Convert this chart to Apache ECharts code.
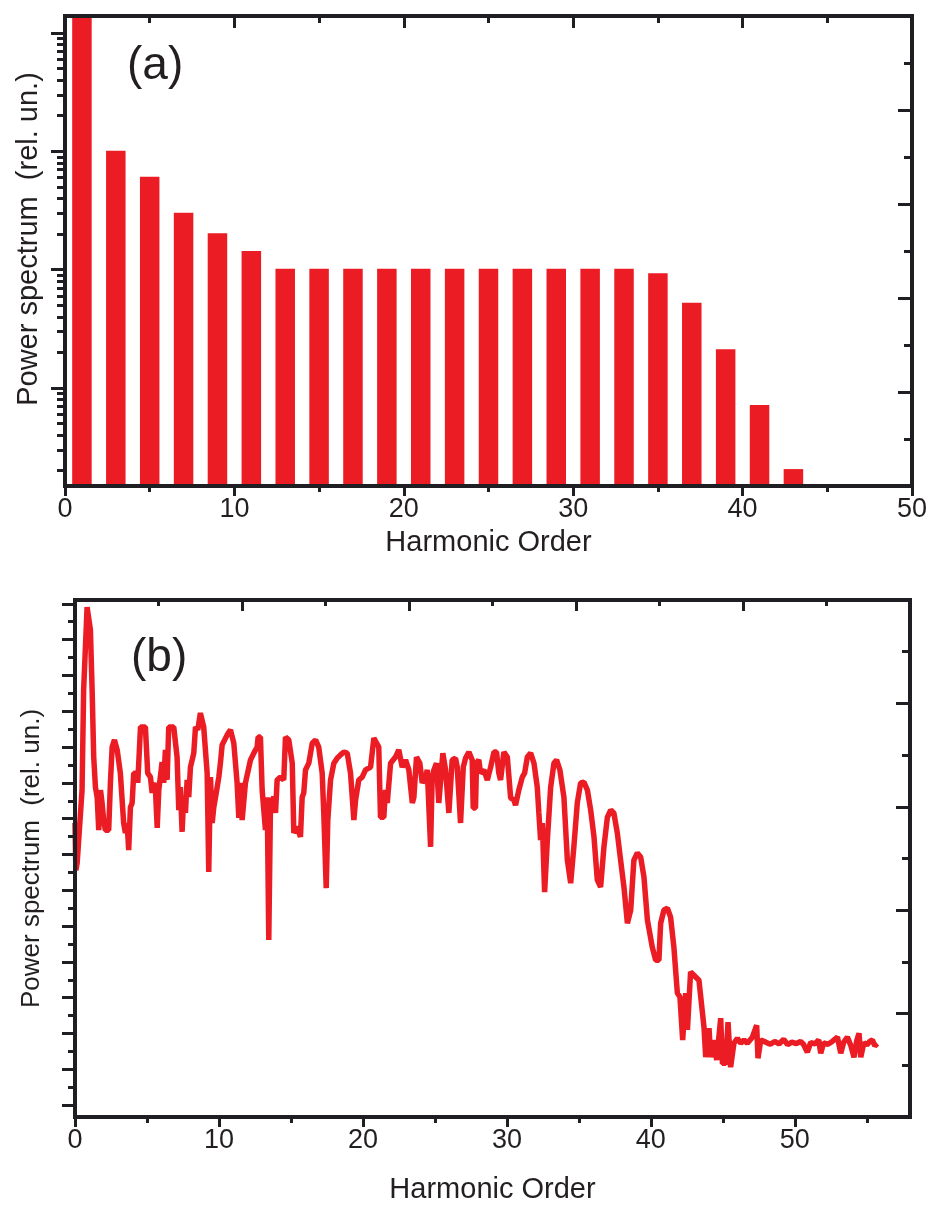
<!DOCTYPE html>
<html>
<head>
<meta charset="utf-8">
<script src="https://cdn.jsdelivr.net/npm/echarts@6/dist/echarts.min.js"></script>
<style>
html,body{margin:0;padding:0;background:#fff;}
#chart{width:931px;height:1205px;}
</style>
</head>
<body>
<div id="chart"></div>
<script>
// ---------- Panel (a): harmonic bars (log10 of relative power) ----------
const harmonicsA = [1,3,5,7,9,11,13,15,17,19,21,23,25,27,29,31,33,35,37,39,41,43];
const log10PowerA = [4.15,3.006,2.786,2.482,2.308,2.158,2.008,2.008,2.008,2.008,2.008,2.008,2.008,2.008,2.008,2.008,2.008,1.970,1.721,1.327,0.856,0.315];
const xTickLabelsA = [0,10,20,30,40,50];
const decadeTicksA = [1,2,3,4];
const logMultiples = [2,3,4,5,6,7,8,9];

// ---------- Panel (b): spectrum (log10 of relative power) ----------
const orderB = [0,0.06,0.15,0.26,0.49,0.60,0.84,1.07,1.19,1.30,1.42,1.54,1.65,1.77,1.88,1.99,2.11,2.34,2.46,2.58,2.74,2.93,3.15,3.38,3.50,3.62,3.73,3.85,3.97,4.08,4.32,4.36,4.55,4.89,5.05,5.24,5.36,5.47,5.59,5.71,5.82,6.05,6.16,6.28,6.40,6.51,6.86,7.09,7.21,7.32,7.44,7.55,7.67,7.79,7.90,8.02,8.25,8.37,8.53,8.71,8.94,9.18,9.29,9.41,9.53,9.64,9.76,9.99,10.10,10.22,10.57,10.80,11.03,11.26,11.38,11.49,11.61,11.72,11.84,12.19,12.42,12.65,12.72,12.88,13.00,13.23,13.35,13.46,13.58,13.81,13.93,14.04,14.27,14.50,14.62,14.85,15.09,15.20,15.43,15.66,15.78,15.89,16.01,16.24,16.48,16.71,16.93,17.17,17.28,17.45,17.56,17.75,17.98,18.21,18.44,18.67,18.91,19.14,19.37,19.49,19.71,19.95,20.18,20.53,20.76,20.87,21.10,21.22,21.45,21.57,21.69,21.92,22.26,22.49,22.73,22.84,22.96,23.19,23.43,23.54,23.72,23.95,24.12,24.35,24.47,24.70,24.81,24.93,25.11,25.27,25.39,25.55,25.74,25.97,26.20,26.43,26.55,26.78,26.97,27.13,27.36,27.59,27.66,27.82,27.89,28.05,28.17,28.40,28.64,28.87,29.10,29.28,29.44,29.56,29.79,30.03,30.26,30.49,30.60,30.83,31.07,31.23,31.42,31.65,31.88,32.11,32.22,32.34,32.46,32.62,32.81,33.04,33.27,33.45,33.68,33.96,34.20,34.43,34.65,34.89,35.12,35.35,35.59,35.82,36.05,36.28,36.51,36.74,36.98,37.21,37.43,37.67,37.90,38.13,38.37,38.60,38.82,39.06,39.29,39.52,39.76,40.10,40.33,40.56,40.68,40.91,41.15,41.37,41.60,41.84,42.02,42.21,42.42,42.54,42.76,42.99,43.34,43.69,43.81,44.04,44.15,44.38,44.57,44.85,44.97,45.20,45.36,45.54,45.77,46.01,46.24,46.47,46.70,47.05,47.35,47.44,47.63,47.98,48.3,48.6,48.9,49.23,49.5,49.8,50.1,50.4,50.6,50.87,51.1,51.4,51.66,51.8,52.0,52.3,52.6,52.96,53.19,53.4,53.65,53.9,54.11,54.3,54.46,54.58,54.8,55.0,55.2,55.39,55.55,55.74];
const log10PowerB = [-6.12,-7.44,-7.24,-7.24,-5.20,-2.41,-0.09,-0.73,-2.41,-4.28,-5.12,-5.40,-6.32,-5.20,-5.56,-6.04,-6.32,-6.32,-5.00,-4.00,-3.80,-4.08,-4.73,-6.12,-6.40,-6.12,-6.88,-5.68,-5.56,-4.73,-4.73,-5.00,-3.44,-3.44,-4.73,-4.84,-5.28,-5.00,-5.20,-6.26,-5.20,-4.42,-5.00,-4.08,-4.92,-3.44,-3.44,-4.28,-5.76,-5.12,-6.37,-5.40,-5.84,-4.92,-5.40,-4.56,-4.17,-3.44,-3.52,-3.05,-3.44,-4.73,-7.49,-4.84,-6.12,-5.68,-5.40,-4.84,-4.45,-3.94,-3.66,-3.52,-3.89,-5.00,-5.98,-5.00,-6.04,-6.04,-5.00,-4.36,-4.17,-4.00,-3.72,-3.72,-5.20,-6.32,-5.40,-9.39,-5.56,-5.40,-5.84,-4.92,-4.84,-4.92,-3.72,-3.80,-4.45,-6.40,-6.23,-6.51,-5.40,-5.28,-4.64,-4.45,-3.89,-3.80,-4.00,-4.73,-5.84,-7.94,-6.04,-4.92,-4.45,-4.31,-4.22,-4.14,-4.17,-4.73,-6.04,-5.48,-4.92,-4.84,-4.64,-4.56,-3.75,-3.72,-4.00,-5.96,-5.96,-5.20,-5.56,-4.45,-4.28,-4.08,-4.56,-4.45,-4.36,-4.64,-5.56,-5.40,-4.28,-4.45,-5.00,-4.84,-4.64,-6.79,-4.84,-4.64,-4.45,-5.56,-5.56,-4.17,-4.64,-5.84,-4.36,-4.31,-4.56,-6.12,-4.56,-4.31,-4.14,-4.36,-5.70,-5.70,-4.45,-4.36,-4.73,-4.64,-4.92,-4.56,-4.14,-4.14,-4.73,-4.92,-4.14,-4.28,-5.42,-5.48,-5.62,-5.20,-4.84,-4.73,-4.28,-4.17,-4.45,-5.12,-5.84,-6.60,-6.12,-8.05,-6.60,-5.12,-4.45,-4.36,-4.64,-5.40,-7.16,-7.80,-6.79,-5.56,-5.00,-4.98,-5.20,-5.76,-6.51,-7.71,-7.91,-6.79,-5.96,-5.76,-5.84,-6.40,-7.16,-7.91,-8.92,-8.55,-7.16,-6.96,-7.07,-7.63,-8.83,-9.59,-9.95,-9.95,-8.92,-8.55,-8.50,-8.75,-9.59,-10.87,-10.98,-12.18,-10.87,-11.90,-10.28,-10.37,-10.51,-11.82,-12.66,-11.85,-12.66,-12.18,-12.74,-11.57,-12.83,-12.83,-11.68,-12.94,-12.27,-12.13,-12.27,-12.18,-12.27,-12.10,-11.77,-12.69,-12.18,-12.24,-12.30,-12.22,-12.29,-12.16,-12.31,-12.24,-12.28,-12.22,-12.30,-12.52,-12.25,-12.29,-12.18,-12.55,-12.26,-12.30,-12.22,-12.10,-12.55,-12.24,-12.10,-12.35,-12.66,-12.20,-11.99,-12.66,-12.25,-12.32,-12.22,-12.18,-12.34,-12.28];
const xTickLabelsB = [0,10,20,30,40,50];
const xMinorTicksB = [5,15,25,35,45,55];

// ---------- styling helpers ----------
const INK = '#1f1f23';
const TXT = '#231f20';
const RED = '#ec1c24';
const FONT = 'Liberation Sans';

// log-pattern minor ticks for panel (a)
const minorTicksA = [];
[0,1,2,3,4].forEach(function (d) {
  logMultiples.forEach(function (k) { minorTicksA.push(d + Math.log10(k)); });
});
// panel (b) left ticks: decades and half-decades
const decadeTicksB = [];
const halfTicksB = [];
for (let d = -14; d <= 0; d++) { decadeTicksB.push(d); if (d < 0) halfTicksB.push(d + 0.5); }

const hidden = { show: false };
function tickStyle(len, inside) {
  return { show: true, length: len, inside: !!inside, lineStyle: { color: INK, width: 3 } };
}
const axisLineOn = { show: true, onZero: false, lineStyle: { color: INK, width: 4, cap: 'square' } };
const axisLineOff = { show: false, onZero: false };
const labelStyle = { color: TXT, fontSize: 27, fontFamily: FONT, margin: 10 };
const nameStyle = { color: TXT, fontSize: 29, fontFamily: FONT };

const chart = echarts.init(document.getElementById('chart'), null, { renderer: 'canvas' });

const option = {
  animation: false,
  backgroundColor: '#ffffff',
  title: [
    { text: '(a)', left: 127, top: 43, padding: 0, textStyle: { fontSize: 46, fontWeight: 'normal', color: TXT, fontFamily: FONT } },
    { text: '(b)', left: 131, top: 635, padding: 0, textStyle: { fontSize: 46, fontWeight: 'normal', color: TXT, fontFamily: FONT } }
  ],
  grid: [
    { left: 65, top: 16, width: 847, height: 470, containLabel: false },
    { left: 75, top: 600, width: 835, height: 517, containLabel: false }
  ],
  xAxis: [
    { // 0: panel a bottom
      gridIndex: 0, type: 'value', position: 'bottom', min: 0, max: 50, interval: 10, z: 5,
      axisLine: axisLineOn, splitLine: hidden,
      axisTick: tickStyle(10, false),
      minorTick: { show: true, splitNumber: 2, length: 6, lineStyle: { color: INK, width: 3 } },
      axisLabel: Object.assign({ customValues: xTickLabelsA }, labelStyle),
      name: 'Harmonic Order', nameLocation: 'middle', nameGap: 42, nameTextStyle: nameStyle
    },
    { // 1: panel a top
      gridIndex: 0, type: 'value', position: 'top', min: 0, max: 50, interval: 10, z: 5,
      axisLine: axisLineOn, splitLine: hidden,
      axisTick: tickStyle(12, true),
      minorTick: { show: true, splitNumber: 2, length: 7, lineStyle: { color: INK, width: 3 } },
      axisLabel: hidden
    },
    { // 2: panel b bottom
      gridIndex: 1, type: 'value', position: 'bottom', min: 0, max: 58, z: 5,
      axisLine: axisLineOn, splitLine: hidden,
      axisTick: Object.assign(tickStyle(10, false), { customValues: xTickLabelsB }),
      axisLabel: Object.assign({ customValues: xTickLabelsB }, labelStyle),
      name: 'Harmonic Order', nameLocation: 'middle', nameGap: 58, nameTextStyle: nameStyle
    },
    { // 3: panel b bottom minor ticks
      gridIndex: 1, type: 'value', position: 'bottom', min: 0, max: 58, z: 5,
      axisLine: axisLineOff, splitLine: hidden,
      axisTick: Object.assign(tickStyle(6, false), { customValues: xMinorTicksB }),
      axisLabel: hidden
    },
    { // 4: panel b top
      gridIndex: 1, type: 'value', position: 'top', min: 0, max: 10, interval: 2, z: 5,
      axisLine: axisLineOn, splitLine: hidden,
      axisTick: tickStyle(11, true),
      minorTick: { show: true, splitNumber: 2, length: 6, lineStyle: { color: INK, width: 3 } },
      axisLabel: hidden
    }
  ],
  yAxis: [
    { // 0: panel a left decades
      gridIndex: 0, type: 'value', position: 'left', min: 0.172, max: 4.144, z: 5,
      axisLine: axisLineOn, splitLine: hidden,
      axisTick: Object.assign(tickStyle(14, false), { customValues: decadeTicksA }),
      axisLabel: hidden,
      name: 'Power spectrum  (rel. un.)', nameLocation: 'middle', nameRotate: 90, nameGap: 22,
      nameTextStyle: Object.assign({ padding: [0, 0, 0, 24] }, nameStyle)
    },
    { // 1: panel a left log minors
      gridIndex: 0, type: 'value', position: 'left', min: 0.172, max: 4.144, z: 5,
      axisLine: axisLineOff, splitLine: hidden,
      axisTick: Object.assign(tickStyle(8, false), { customValues: minorTicksA }),
      axisLabel: hidden
    },
    { // 2: panel a right
      gridIndex: 0, type: 'value', position: 'right', min: 0, max: 10, interval: 2, z: 5,
      axisLine: axisLineOn, splitLine: hidden,
      axisTick: tickStyle(14, true),
      minorTick: { show: true, splitNumber: 2, length: 8, lineStyle: { color: INK, width: 3 } },
      axisLabel: hidden
    },
    { // 3: panel b left decades
      gridIndex: 1, type: 'value', position: 'left', min: -14.33, max: 0.106, z: 5,
      axisLine: axisLineOn, splitLine: hidden,
      axisTick: Object.assign(tickStyle(13, false), { customValues: decadeTicksB }),
      axisLabel: hidden,
      name: 'Power spectrum  (rel. un.)', nameLocation: 'middle', nameRotate: 90, nameGap: 30,
      nameTextStyle: { color: TXT, fontSize: 26, fontFamily: FONT }
    },
    { // 4: panel b left half-decades
      gridIndex: 1, type: 'value', position: 'left', min: -14.33, max: 0.106, z: 5,
      axisLine: axisLineOff, splitLine: hidden,
      axisTick: Object.assign(tickStyle(7, false), { customValues: halfTicksB }),
      axisLabel: hidden
    },
    { // 5: panel b right
      gridIndex: 1, type: 'value', position: 'right', min: 0, max: 10, interval: 2, z: 5,
      axisLine: axisLineOn, splitLine: hidden,
      axisTick: tickStyle(14, true),
      minorTick: { show: true, splitNumber: 2, length: 8, lineStyle: { color: INK, width: 3 } },
      axisLabel: hidden
    }
  ],
  series: [
    {
      type: 'bar', xAxisIndex: 0, yAxisIndex: 0, clip: true,
      barWidth: 19.5,
      itemStyle: { color: RED },
      data: harmonicsA.map(function (h, i) { return [h, log10PowerA[i]]; })
    },
    {
      type: 'line', xAxisIndex: 2, yAxisIndex: 3, clip: true,
      showSymbol: false, symbol: 'none',
      lineStyle: { color: RED, width: 5.5, join: 'bevel' },
      data: orderB.map(function (h, i) { return [h, log10PowerB[i]]; })
    }
  ]
};
chart.setOption(option);
</script>
</body>
</html>
